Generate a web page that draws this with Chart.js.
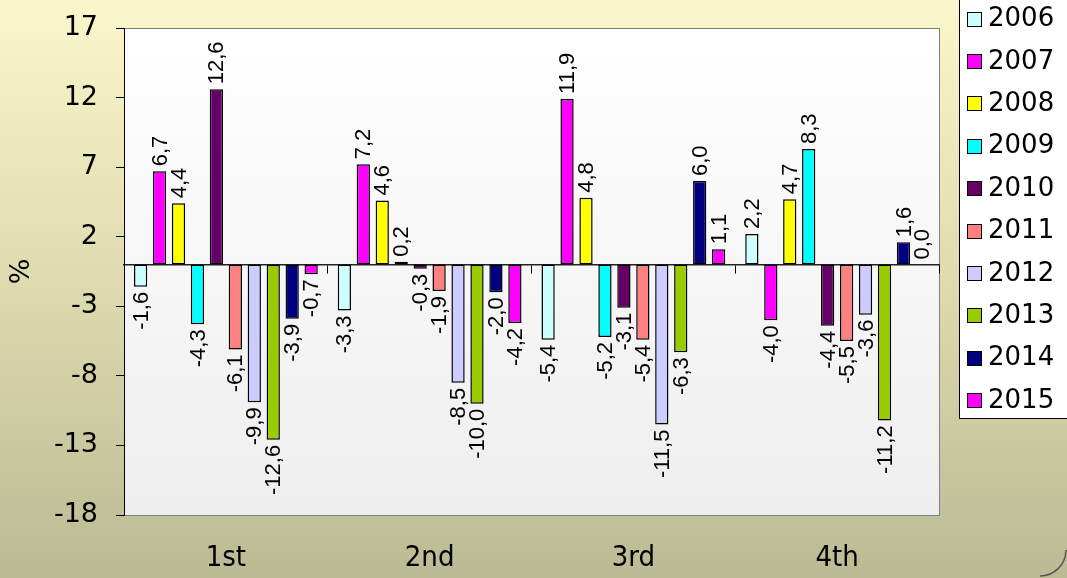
<!DOCTYPE html>
<html>
<head>
<meta charset="utf-8">
<script src="https://cdn.jsdelivr.net/npm/chart.js@4"></script>
<style>
html,body{margin:0;padding:0;background:#fff;}
#c{display:block;}
</style>
</head>
<body>
<canvas id="c" width="1067" height="578"></canvas>
<script>
const categories = ['1st', '2nd', '3rd', '4th'];
const years = ['2006','2007','2008','2009','2010','2011','2012','2013','2014','2015'];
const yTicks = [-18, -13, -8, -3, 2, 7, 12, 17];

const v2006 = [-1.6, -3.3, -5.4, 2.2];
const v2007 = [6.7, 7.2, 11.9, -4.0];
const v2008 = [4.4, 4.6, 4.8, 4.7];
const v2009 = [-4.3, 0.2, -5.2, 8.3];
const v2010 = [12.6, -0.3, -3.1, -4.4];
const v2011 = [-6.1, -1.9, -5.4, -5.5];
const v2012 = [-9.9, -8.5, -11.5, -3.6];
const v2013 = [-12.6, -10.0, -6.3, -11.2];
const v2014 = [-3.9, -2.0, 6.0, 1.6];
const v2015 = [-0.7, -4.2, 1.1, 0.0];

const seriesValues = [v2006, v2007, v2008, v2009, v2010, v2011, v2012, v2013, v2014, v2015];
const seriesColors = ['#ccffff','#ff00ff','#ffff00','#00ffff','#660066','#ff8080','#ccccff','#99cc00','#000080','#ff00ff'];

const datasets = years.map((y, i) => ({
  label: y,
  data: seriesValues[i],
  backgroundColor: seriesColors[i],
  borderColor: '#000000',
  borderWidth: 1.5,
  borderSkipped: false,
  categoryPercentage: 0.93,
  barPercentage: 0.7
}));

const bgPlugin = {
  id: 'bg',
  beforeDraw(chart) {
    const ctx = chart.ctx, w = chart.width, h = chart.height, a = chart.chartArea;
    ctx.save();
    let g = ctx.createLinearGradient(0, 0, 0, h);
    g.addColorStop(0, '#faf8cb');
    g.addColorStop(0.5, '#dcdaae');
    g.addColorStop(1, '#babb94');
    ctx.fillStyle = g;
    ctx.fillRect(0, 0, w, h);
    let g2 = ctx.createLinearGradient(0, a.top, 0, a.bottom);
    g2.addColorStop(0, '#ffffff');
    g2.addColorStop(1, '#eeeeee');
    ctx.fillStyle = g2;
    ctx.fillRect(a.left, a.top, a.right - a.left, a.bottom - a.top);
    ctx.strokeStyle = '#808080';
    ctx.lineWidth = 1;
    ctx.strokeRect(a.left + 0.5, a.top + 0.5, a.right - a.left, a.bottom - a.top);
    ctx.restore();
  }
};

const labelPlugin = {
  id: 'vlabels',
  afterDatasetsDraw(chart) {
    const ctx = chart.ctx;
    ctx.save();
    ctx.fillStyle = '#000';
    ctx.font = '22px "Liberation Sans", Arial, sans-serif';
    ctx.textBaseline = 'middle';
    chart.data.datasets.forEach((ds, di) => {
      const meta = chart.getDatasetMeta(di);
      meta.data.forEach((bar, i) => {
        const v = ds.data[i];
        const txt = v.toFixed(1).replace('.', ',');
        ctx.save();
        if (v >= 0) {
          ctx.translate(bar.x, bar.y - 5);
          ctx.rotate(-Math.PI / 2);
          ctx.textAlign = 'left';
        } else {
          ctx.translate(bar.x, bar.y + 5);
          ctx.rotate(-Math.PI / 2);
          ctx.textAlign = 'right';
        }
        ctx.fillText(txt, 0, 1);
        ctx.restore();
      });
    });
    ctx.restore();
  }
};

const legendPlugin = {
  id: 'boxLegend',
  afterDraw(chart) {
    const ctx = chart.ctx;
    ctx.save();
    ctx.fillStyle = '#ffffff';
    ctx.fillRect(959.5, -2, 120, 420.5);
    ctx.strokeStyle = '#000';
    ctx.lineWidth = 1;
    ctx.strokeRect(959.5, -2, 120, 420.5);
    ctx.font = '26px "DejaVu Sans", sans-serif';
    ctx.textBaseline = 'middle';
    ctx.textAlign = 'left';
    chart.data.datasets.forEach((ds, i) => {
      const cy = 18.5 + i * 42.4;
      ctx.fillStyle = ds.backgroundColor;
      ctx.fillRect(967.5, Math.round(cy - 7) + 0.5, 14, 14);
      ctx.strokeStyle = '#000';
      ctx.strokeRect(967.5, Math.round(cy - 7) + 0.5, 14, 14);
      ctx.fillStyle = '#000';
      ctx.fillText(ds.label, 988, cy + 1);
    });
    ctx.strokeStyle = '#555';
    ctx.lineWidth = 1.5;
    ctx.beginPath();
    ctx.arc(1040, 550, 26, 0, Math.PI / 2);
    ctx.stroke();
    ctx.restore();
  }
};

new Chart(document.getElementById('c'), {
  type: 'bar',
  data: { labels: categories, datasets },
  options: {
    responsive: false,
    animation: false,
    devicePixelRatio: 1,
    layout: { padding: { top: 28, right: 128, left: 0, bottom: 0 } },
    plugins: { legend: { display: false }, tooltip: { enabled: false } },
    scales: {
      x: {
        type: 'category',
        position: 'bottom',
        grid: { display: false, drawTicks: false },
        border: { display: false },
        ticks: { color: '#000', font: { family: '"DejaVu Sans Condensed", "DejaVu Sans", sans-serif', size: 29 }, padding: 26, maxRotation: 0 },
        afterFit(s) { s.height = 63; s.paddingLeft = 0; s.paddingRight = 0; }
      },
      x2: {
        type: 'category',
        position: { y: 0 },
        offset: true,
        grid: { display: true, offset: true, drawOnChartArea: false, drawTicks: true, tickLength: 8, color: '#000' },
        border: { display: true, color: '#222', width: 1.5 },
        ticks: { display: false },
        afterFit(s) { s.height = 0; s.paddingLeft = 0; s.paddingRight = 0; }
      },
      y: {
        type: 'linear',
        min: -18,
        max: 17,
        afterBuildTicks(s) { s.ticks = yTicks.map(v => ({ value: v })); },
        grid: { display: true, drawOnChartArea: false, drawTicks: true, tickLength: 8, color: '#000' },
        border: { display: true, color: '#000', width: 1 },
        ticks: { color: '#000', font: { family: '"DejaVu Sans", sans-serif', size: 27 }, padding: 18 },
        title: { display: true, text: '%', color: '#000', font: { family: '"DejaVu Sans", sans-serif', size: 27 }, padding: { top: 6, bottom: 0 } },
        afterFit(s) { s.width = 124; s.paddingTop = 0; s.paddingBottom = 0; }
      }
    }
  },
  plugins: [bgPlugin, labelPlugin, legendPlugin]
});
</script>
</body>
</html>
